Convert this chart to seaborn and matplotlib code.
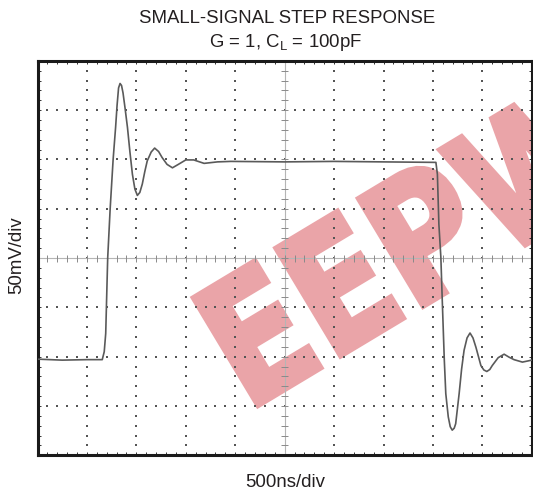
import numpy as np
import pandas as pd
import seaborn as sns
import matplotlib.pyplot as plt
import matplotlib.patheffects as pe
from matplotlib.font_manager import FontProperties
from matplotlib.patches import PathPatch
from matplotlib.text import TextPath
from matplotlib.transforms import Affine2D
from matplotlib.ticker import MultipleLocator

# scope trace, in divisions (x: 500ns/div, y: 50mV/div, 0 = centre)
time_div = [0.00, 0.50, 1.00, 1.31, 1.35, 1.38, 1.42, 1.47, 1.53, 1.58, 1.61, 1.64, 1.67,
            1.70, 1.73, 1.77, 1.82, 1.87, 1.92, 1.97, 2.02, 2.07, 2.12, 2.17, 2.22, 2.30,
            2.37, 2.45, 2.52, 2.62, 2.73, 2.85, 3.00, 3.16, 3.37, 3.64, 3.91, 5.00, 6.00,
            7.00, 8.06, 8.09, 8.12, 8.16, 8.19, 8.23, 8.26, 8.31, 8.35, 8.39, 8.43, 8.46,
            8.53, 8.58, 8.63, 8.69, 8.75, 8.81, 8.87, 8.97, 9.03, 9.09, 9.15, 9.20, 9.32,
            9.44, 9.54, 9.64, 9.81, 10.00]
volt_div = [-2.05, -2.07, -2.06, -2.06, -1.90, -1.53, 0.00, 1.00, 2.00, 2.65, 3.10, 3.45, 3.54,
            3.50, 3.35, 3.05, 2.65, 2.15, 1.70, 1.40, 1.27, 1.33, 1.50, 1.75, 1.97, 2.15,
            2.23, 2.16, 2.04, 1.90, 1.83, 1.90, 1.99, 1.99, 1.92, 1.95, 1.96, 1.95, 1.96,
            1.95, 1.94, 1.70, 0.69, 0.02, -0.90, -2.07, -2.75, -3.22, -3.42, -3.49, -3.45,
            -3.36, -2.75, -2.25, -1.87, -1.62, -1.52, -1.62, -1.81, -2.18, -2.27, -2.30,
            -2.26, -2.18, -2.02, -1.95, -2.01, -2.06, -2.11, -2.07]

title_lines = ["SMALL-SIGNAL STEP RESPONSE", "G = 1, C$_\\mathregular{L}$ = 100pF"]
x_label = "500ns/div"
y_label = "50mV/div"
watermark = "EEPW"

trace = pd.DataFrame({"t": time_div, "v": volt_div})

sns.set_style("white")
plt.rcParams["font.family"] = ["Liberation Sans", "DejaVu Sans"]
plt.rcParams["mathtext.default"] = "regular"

W, H = 533, 492
fig = plt.figure(figsize=(W / 100, H / 100), dpi=100)
left, right, top, bottom = 37.5, 531.8, 60.8, 455.3
ax = fig.add_axes([left / W, 1 - bottom / H, (right - left) / W, (bottom - top) / H])

# watermark stamp: condensed bold letters, rotated, placed in pixel space
pink = "#eaa4a8"
em = 172
wm_path = TextPath((0, 0), watermark, size=em, prop=FontProperties(family="DejaVu Sans", weight="bold"))
wm_tf = Affine2D().scale(0.82, 1).rotate_deg(31).translate(247, H - 412)
wm = PathPatch(wm_path, transform=wm_tf, facecolor=pink, edgecolor=pink, lw=4, zorder=0.5,
               path_effects=[pe.Stroke(linewidth=12, foreground="white"), pe.Normal()])
ax.add_artist(wm)
wm.set_clip_path(ax.patch)

# dotted graticule (dots every 0.2 div on each major line)
fine = np.arange(0, 10.001, 0.2)
fine_y = np.arange(-4, 4.001, 0.2)
gx, gy = [], []
for k in range(1, 10):
    if k == 5:
        continue
    gx += [k] * len(fine_y)
    gy += list(fine_y)
for j in range(-3, 4):
    if j == 0:
        continue
    gx += list(fine)
    gy += [j] * len(fine)
ax.scatter(gx, gy, s=0.6, marker="s", color="#555555", linewidths=0, zorder=1)

# centre cross with small ticks
ax.axhline(0, color="#b5b5b5", lw=0.8, zorder=1)
ax.axvline(5, color="#b5b5b5", lw=0.8, zorder=1)
ax.vlines(fine, -0.07, 0.07, color="#8a8a8a", lw=0.7, zorder=1)
ax.hlines(fine_y, 4.93, 5.07, color="#8a8a8a", lw=0.7, zorder=1)

sns.lineplot(data=trace, x="t", y="v", sort=False, color="#5a5a5a", lw=1.2, ax=ax, zorder=3)

ax.set_xlim(0, 10)
ax.set_ylim(-4, 4)
ax.set_xlabel("")
ax.set_ylabel("")
ax.xaxis.set_major_locator(MultipleLocator(1))
ax.yaxis.set_major_locator(MultipleLocator(1))
ax.xaxis.set_minor_locator(MultipleLocator(0.2))
ax.yaxis.set_minor_locator(MultipleLocator(0.2))
ax.tick_params(which="both", direction="in", top=True, right=True, bottom=True, left=True,
               labelbottom=False, labelleft=False, length=2.2, width=0.7, color="#333333")
for sp in ax.spines.values():
    sp.set_linewidth(2.2)
    sp.set_color("#1a1a1a")

txt = dict(fontsize=13.4, color="#231f20", ha="center")
fig.text(287 / W, 1 - 23 / H, title_lines[0], va="baseline", **txt)
fig.text(286 / W, 1 - 47 / H, title_lines[1], va="baseline", **txt)
fig.text(285 / W, 1 - 487 / H, x_label, va="baseline", **txt)
fig.text(16.5 / W, 1 - 255 / H, y_label, va="center", rotation=90, fontsize=13.4,
         color="#231f20", ha="center")

fig.savefig("out.png", dpi=100)
